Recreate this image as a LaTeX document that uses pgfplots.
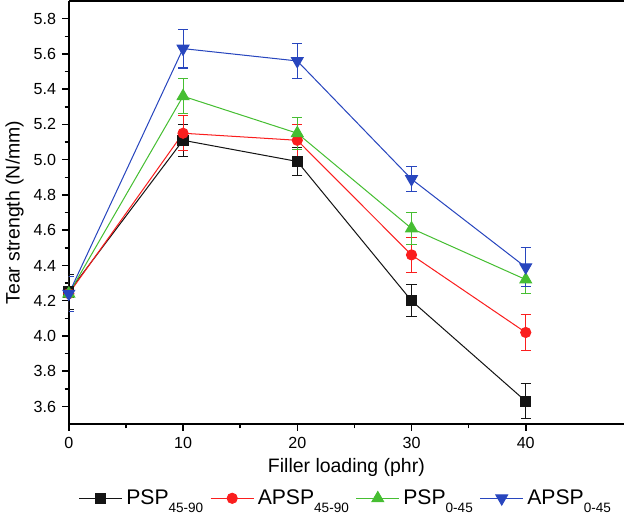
\documentclass[border=0pt]{standalone}
\usepackage{pgfplots}
\pgfplotsset{compat=1.18}
\usepackage{fontspec}
\setmainfont{Liberation Sans}
\definecolor{cblack}{RGB}{20,20,20}
\definecolor{cred}{RGB}{250,30,30}
\definecolor{cgreen}{RGB}{70,190,50}
\definecolor{cblue}{RGB}{40,70,190}
\newcommand{\sub}[1]{\raisebox{-0.7ex}{\fontsize{8}{8}\selectfont #1}}
\begin{document}
\begin{tikzpicture}
\begin{axis}[
  width=328pt, height=250pt, scale only axis,
  xmin=0, xmax=48.6, ymin=3.5, ymax=5.9,
  axis x line*=box, axis y line*=left,
  axis line style={line width=1.2pt},
  xtick={0,10,20,30,40}, minor x tick num=1,
  ytick={3.6,3.8,...,5.81}, minor y tick num=1,
  xtick pos=bottom, ytick pos=left, tick align=outside,
  major tick length=4pt, minor tick length=2.5pt,
  tick style={line width=0.9pt, black},
  /pgf/number format/assume math mode=true,
  yticklabel style={/pgf/number format/fixed,/pgf/number format/precision=1,/pgf/number format/fixed zerofill},
  ticklabel style={font=\fontsize{9.5}{11}\selectfont},
  xlabel={Filler loading (phr)}, ylabel={Tear strength (N/mm)},
  label style={font=\fontsize{11.5}{13}\selectfont},
  xlabel style={yshift=1pt}, ylabel style={yshift=-1pt},
  legend columns=4,
  legend style={at={(0.5,-0.13)}, anchor=north, draw=none, fill=none,
    font=\fontsize{12.5}{14}\selectfont, inner xsep=1pt, inner ysep=4pt,
    /tikz/every even column/.append style={column sep=2pt}},
  legend image code/.code={\draw[mark repeat=2,mark phase=2] plot coordinates {(0cm,0cm) (0.45cm,0cm) (0.9cm,0cm)};},
  every axis plot/.append style={line width=0.6pt},
  error bars/error bar style={line width=0.6pt},
  error bars/error mark options={rotate=90, mark size=3pt, line width=0.6pt},
]
\addplot[cblack, mark=square*, mark size=3pt, error bars/.cd, y dir=both, y explicit]
  coordinates {(0,4.25) +- (0,0.1) (10,5.11) +- (0,0.09) (20,4.99) +- (0,0.08) (30,4.20) +- (0,0.09) (40,3.63) +- (0,0.1)};
\addplot[cred, mark=*, mark size=3pt, error bars/.cd, y dir=both, y explicit]
  coordinates {(0,4.24) +- (0,0.1) (10,5.15) +- (0,0.1) (20,5.11) +- (0,0.09) (30,4.46) +- (0,0.1) (40,4.02) +- (0,0.1)};
\addplot[cgreen, mark=triangle*, mark size=4pt, error bars/.cd, y dir=both, y explicit]
  coordinates {(0,4.24) +- (0,0.1) (10,5.36) +- (0,0.1) (20,5.15) +- (0,0.09) (30,4.61) +- (0,0.09) (40,4.32) +- (0,0.08)};
\addplot[cblue, mark=triangle*, mark options={rotate=180}, mark size=4pt, error bars/.cd, y dir=both, y explicit]
  coordinates {(0,4.24) +- (0,0.1) (10,5.63) +- (0,0.11) (20,5.56) +- (0,0.1) (30,4.89) +- (0,0.07) (40,4.39) +- (0,0.11)};
\legend{PSP\sub{45-90}, APSP\sub{45-90}, PSP\sub{0-45}, APSP\sub{0-45}}
\end{axis}
\end{tikzpicture}
\end{document}
